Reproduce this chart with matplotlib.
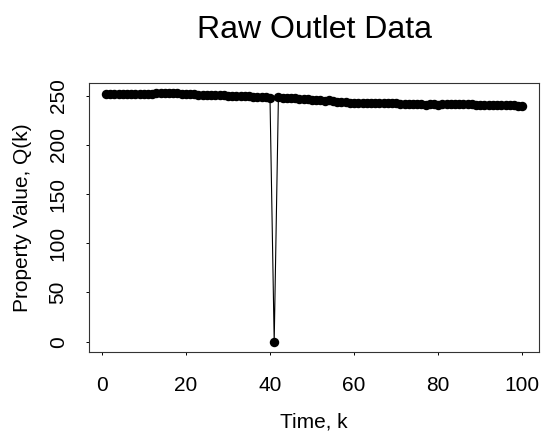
import matplotlib
matplotlib.use("Agg")
import matplotlib.pyplot as plt
import numpy as np

plt.rcParams['font.family'] = ['Liberation Sans', 'DejaVu Sans']

time_k = list(range(1, 101))
values = [
    251.5, 251.8, 251.6, 251.9, 251.7, 251.5, 251.8, 251.6, 251.4, 251.7,
    251.9, 252.1, 252.3, 252.5, 252.6, 252.8, 252.5, 252.3, 252.0, 251.8,
    251.6, 251.4, 251.2, 251.1, 250.9, 250.8, 250.6, 250.5, 250.3, 250.1,
    249.9, 249.8, 249.6, 249.4, 249.3, 249.1, 248.8, 248.5, 248.2, 248.0,
    0.0,
    248.2, 247.9, 247.7, 247.4, 247.2, 246.9, 246.6, 246.3, 246.0,
    245.6, 245.3, 245.0, 245.6, 244.5, 244.0, 243.6, 243.3, 243.0, 242.8,
    242.6, 242.5, 242.7, 242.4, 242.6, 242.3, 242.5, 242.2, 242.4, 242.1,
    242.0, 241.8, 241.9, 241.6, 241.4, 241.2, 240.9, 241.1, 241.3, 241.0,
    241.2, 241.5, 241.8, 241.6, 241.9, 241.7, 241.4, 241.2, 241.0, 240.8,
    240.9, 240.7, 240.6, 240.8, 240.5, 240.4, 240.6, 240.3, 239.8, 239.2,
]
x_ticks = [0, 20, 40, 60, 80, 100]
y_ticks = [0, 50, 100, 150, 200, 250]

W, H = 545, 437
fig = plt.figure(figsize=(W / 100, H / 100), dpi=100)
left, right, top, bottom = 89.3, 539.0, 83.0, 351.6
ax = fig.add_axes([left / W, 1 - bottom / H, (right - left) / W, (bottom - top) / H])

ax.plot(time_k, values, color='black', lw=0.8, marker='o', markersize=6.8,
        markeredgewidth=0, markerfacecolor='black')

xr = max(time_k) - min(time_k)
ax.set_xlim(min(time_k) - 0.04 * xr, max(time_k) + 0.04 * xr)
yr = max(values) - min(values)
ax.set_ylim(min(values) - 0.04 * yr, max(values) + 0.04 * yr)

ax.set_xticks(x_ticks)
ax.set_yticks(y_ticks)
ax.tick_params(axis='both', direction='out', length=2.2, width=0.7, labelsize=15)
ax.tick_params(axis='x', pad=15.4)
ax.tick_params(axis='y', pad=13.4)
for lab in ax.get_yticklabels():
    lab.set_rotation(90)
    lab.set_va('center')

for s in ax.spines.values():
    s.set_linewidth(0.8)
    s.set_color('#333333')

ax_h = bottom - top
ax_w = right - left
ax.set_title('Raw Outlet Data', fontsize=23, va='baseline', pad=0, y=1 + (top - 38) / ax_h)
ax.set_xlabel('Time, k', fontsize=15, va='baseline')
ax.xaxis.set_label_coords(0.5, -(428 - bottom) / ax_h)
ax.set_ylabel('Property Value, Q(k)', fontsize=15, va='center')
ax.yaxis.set_label_coords((22 - left) / ax_w, 0.5)

fig.savefig('out.png', dpi=100)
